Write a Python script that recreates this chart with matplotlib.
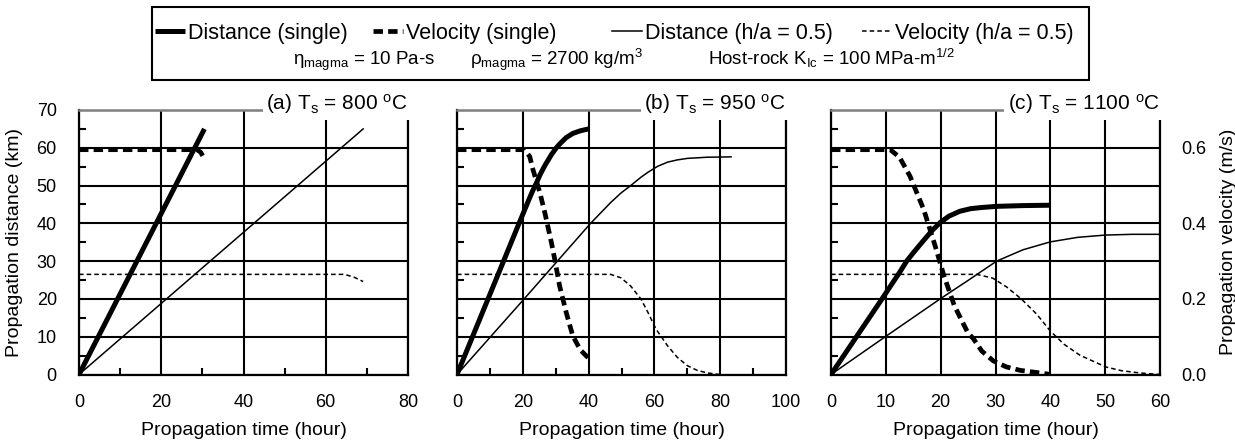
import matplotlib
matplotlib.use("Agg")
import matplotlib.pyplot as plt
from matplotlib import font_manager as fm
from matplotlib.lines import Line2D
from matplotlib.patches import Rectangle
from matplotlib.ticker import MultipleLocator, FormatStrFormatter

def has_font(name):
    try:
        fm.findfont(fm.FontProperties(family=name), fallback_to_default=False)
        return True
    except Exception:
        return False

REG = 'Liberation Sans' if has_font('Liberation Sans') else 'DejaVu Sans'

plt.rcParams['font.family'] = [REG, 'DejaVu Sans']
plt.rcParams['mathtext.fontset'] = 'custom'
plt.rcParams['mathtext.rm'] = REG
plt.rcParams['mathtext.it'] = REG + ':italic'
plt.rcParams['mathtext.bf'] = REG + ':bold'

# ---------------- data ----------------
titles = ["(a) T$_\\mathrm{s}$ = 800 $^\\mathrm{o}$C",
          "(b) T$_\\mathrm{s}$ = 950 $^\\mathrm{o}$C",
          "(c) T$_\\mathrm{s}$ = 1100 $^\\mathrm{o}$C"]
xmax = [80, 100, 60]
xmajor = [20, 20, 10]
xminor = [10, 10, None]

# panel (a)
a_t_dist_single = [0, 30.5]
a_dist_single = [0, 65]
a_t_vel_single = [0, 28.7, 29.6, 30.5]
a_vel_single = [0.595, 0.595, 0.588, 0.57]
a_t_dist_ha = [0, 69.1]
a_dist_ha = [0, 65]
a_t_vel_ha = [0, 64.5, 66.8, 69.1]
a_vel_ha = [0.265, 0.265, 0.258, 0.246]

# panel (b)
b_t_dist_single = [0, 10, 19, 21, 22.1, 23.1, 24.2, 25.2, 26.7, 28.7, 30.2, 31.2, 33.2, 35.2, 37.5, 40]
b_dist_single = [0, 21.2, 40.3, 44.5, 46.8, 48.8, 50.8, 52.8, 55.3, 58.2, 60, 61, 62.7, 63.8, 64.5, 65]
b_t_vel_single = [0, 20.5, 22.1, 23.1, 25.2, 26.7, 28.7, 29.7, 31.2, 33.2, 35.2, 37.5, 40]
b_vel_single = [0.595, 0.595, 0.577, 0.542, 0.481, 0.428, 0.349, 0.305, 0.234, 0.164, 0.102, 0.065, 0.043]
b_t_dist_ha = [0, 20, 40.6, 46.7, 49.8, 52.8, 55.9, 58, 61, 64, 67, 70.1, 76, 83.3]
b_dist_ha = [0, 19.6, 40, 45.5, 48, 50, 52.2, 53.5, 55.1, 56.2, 56.8, 57.2, 57.5, 57.6]
b_t_vel_ha = [0, 46.7, 49.8, 52.8, 55.9, 58, 60.5, 64, 67, 70.1, 73, 76.2, 79.8]
b_vel_ha = [0.265, 0.265, 0.256, 0.234, 0.2, 0.165, 0.12, 0.076, 0.045, 0.023, 0.011, 0.004, 0.0]

# panel (c)
c_t_dist_single = [0, 9.3, 10.8, 12.5, 13.8, 15, 16.9, 18.5, 19.9, 21.5, 23.5, 25.5, 27.5, 30.2, 35, 40]
c_dist_single = [0, 20, 23.3, 27, 30, 32.2, 35.5, 38.2, 40.2, 41.9, 43.2, 43.9, 44.2, 44.5, 44.7, 44.8]
c_t_vel_single = [0, 10.8, 12.5, 14.4, 16.9, 19.0, 20.6, 22.5, 24.9, 26.0, 27.5, 29.6, 32, 34.5, 38.7, 40]
c_vel_single = [0.595, 0.595, 0.575, 0.525, 0.437, 0.34, 0.261, 0.182, 0.112, 0.094, 0.062, 0.036, 0.02, 0.011, 0.003, 0.0]
c_t_dist_ha = [0, 10, 19.9, 25, 30.2, 35, 40, 45, 50, 55, 60]
c_dist_ha = [0, 10.1, 20, 24.9, 30, 33, 35.1, 36.3, 36.9, 37.1, 37.1]
c_t_vel_ha = [0, 26.6, 29.5, 32, 34.7, 37.5, 40, 42.5, 45.4, 50.1, 53, 56.4, 60]
c_vel_ha = [0.265, 0.265, 0.255, 0.232, 0.2, 0.16, 0.115, 0.08, 0.051, 0.02, 0.01, 0.004, 0.0]

panels = [
    (a_t_dist_single, a_dist_single, a_t_vel_single, a_vel_single, a_t_dist_ha, a_dist_ha, a_t_vel_ha, a_vel_ha),
    (b_t_dist_single, b_dist_single, b_t_vel_single, b_vel_single, b_t_dist_ha, b_dist_ha, b_t_vel_ha, b_vel_ha),
    (c_t_dist_single, c_dist_single, c_t_vel_single, c_vel_single, c_t_dist_ha, c_dist_ha, c_t_vel_ha, c_vel_ha),
]

legend_labels = ["Distance (single)", "Velocity (single)", "Distance (h/a = 0.5)", "Velocity (h/a = 0.5)"]
param_text = ["\u03b7$_\\mathrm{magma}$ = 10 Pa-s",
              "\u03c1$_\\mathrm{magma}$ = 2700 kg/m$^\\mathrm{3}$",
              "Host-rock K$_\\mathrm{Ic}$ = 100 MPa-m$^\\mathrm{1/2}$"]

# ---------------- styles ----------------
W, H = 1235, 446
fig = plt.figure(figsize=(W / 100, H / 100), dpi=100)

sty_dist_single = dict(color='black', lw=3.6, solid_capstyle='butt')
sty_vel_single = dict(color='black', lw=3.4, linestyle=(0, (2.0, 1.1)))
sty_dist_ha = dict(color='black', lw=1.1)
sty_vel_ha = dict(color='black', lw=1.1, linestyle=(0, (3, 2)))

lefts = [79, 457, 831]
axw = 329
top_px, bot_px = 110, 374.5

for i, (tds, ds, tvs, vs, tdh, dh, tvh, vh) in enumerate(panels):
    ax = fig.add_axes([lefts[i] / W, 1 - bot_px / H, axw / W, (bot_px - top_px) / H])
    ax.set_xlim(0, xmax[i])
    ax.set_ylim(0, 70)
    ax.xaxis.set_major_locator(MultipleLocator(xmajor[i]))
    if xminor[i]:
        ax.xaxis.set_minor_locator(MultipleLocator(xminor[i]))
    ax.yaxis.set_major_locator(MultipleLocator(10))
    ax.yaxis.set_minor_locator(MultipleLocator(5))
    ax.grid(True, which='major', color='black', lw=1.5)
    ax.set_axisbelow(True)
    for s in ['left', 'right', 'bottom']:
        ax.spines[s].set_linewidth(1.6)
        ax.spines[s].set_color('black')
    ax.spines['top'].set_color('#808080')
    ax.spines['top'].set_linewidth(1.8)
    ax.tick_params(which='major', length=0, labelsize=13, pad=14)
    ax.tick_params(axis='y', which='major', pad=16)
    ax.tick_params(which='minor', direction='in', length=5, width=1.5)
    ax.tick_params(axis='y', which='minor', left=True, right=True)
    ax.tick_params(axis='x', which='minor', bottom=True, top=False)
    if i > 0:
        ax.set_yticklabels([])
    else:
        ax.set_ylabel("Propagation distance (km)", fontsize=14, labelpad=10)
    ax.set_xlabel("Propagation time (hour)", fontsize=14, labelpad=8)

    ax.plot(tds, ds, **sty_dist_single)
    ax.plot(tdh, dh, **sty_dist_ha)

    tw = ax.twinx()
    tw.set_ylim(0, 0.7)
    for s in tw.spines.values():
        s.set_visible(False)
    tw.yaxis.set_major_locator(MultipleLocator(0.2))
    tw.yaxis.set_major_formatter(FormatStrFormatter('%.1f'))
    tw.tick_params(axis='y', length=0, labelsize=13, pad=15)
    if i < 2:
        tw.set_yticklabels([])
    else:
        tw.set_ylabel("Propagation velocity (m/s)", fontsize=14, labelpad=10)
    tw.plot(tvs, vs, **sty_vel_single)
    tw.plot(tvh, vh, **sty_vel_ha)

    tw.text(1.0, 1.0, titles[i], transform=tw.transAxes, ha='right', va='baseline',
            fontsize=15, zorder=20, clip_on=False,
            bbox=dict(facecolor='white', edgecolor='none', pad=2.5))

# ---------------- legend box ----------------
fig.add_artist(Rectangle((152 / W, 1 - 80 / H), (1089 - 152) / W, 73 / H,
                         transform=fig.transFigure, fill=False, ec='black', lw=1.5))
handles = [Line2D([], [], **sty_dist_single), Line2D([], [], **sty_vel_single),
           Line2D([], [], **sty_dist_ha), Line2D([], [], **sty_vel_ha)]
leg_x = [155, 373, 612, 862]
ly = 1 - 33 / H
for h, lab, x in zip(handles, legend_labels, leg_x):
    fig.legend([h], [lab], loc='center left', bbox_to_anchor=(x / W, ly),
               frameon=False, borderpad=0, borderaxespad=0, handlelength=1.4,
               handletextpad=0.12, prop=dict(size=15.5))

param_x = [293, 470, 708]
for x, t in zip(param_x, param_text):
    fig.text(x / W, 1 - 65 / H, t, ha='left', va='baseline', fontsize=13.5)

fig.savefig("out.png", dpi=100)
